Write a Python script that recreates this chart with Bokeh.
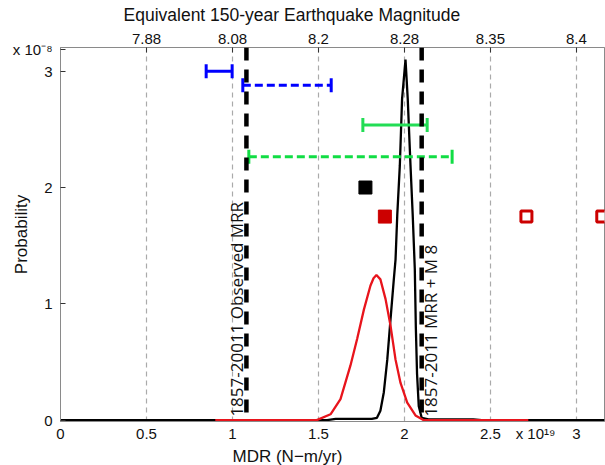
import math
from bokeh.plotting import figure
from bokeh.models import Span, Label, LinearAxis, FixedTicker, Range1d, Title
from bokeh.embed import file_html
from bokeh.resources import INLINE

# ---- data (x in units of 1e19 N-m/yr, y in units of 1e-8) ----
mdr_ticks = [0, 0.5, 1, 1.5, 2, 2.5, 3]
prob_ticks = [0, 1, 2, 3]
mag_pos = [0.5, 1.0, 1.5, 2.0, 2.5, 3.0]
mag_labels = ["7.88", "8.08", "8.2", "8.28", "8.35", "8.4"]
x_exp_pos, x_exp_text = 2.762, "x 10\u00b9\u2079"
y_exp_pos, y_exp_text = 3.19, "x 10\u207b\u2078"

black_x = [0.0, 1.55, 1.60, 1.81, 1.84, 1.86, 1.88, 1.90, 1.919, 1.938, 1.948, 1.958,
           1.973, 1.986, 2.006, 2.019, 2.035, 2.048, 2.060, 2.066, 2.073, 2.083, 2.100,
           2.140, 2.40, 2.45, 3.163]
black_y = [0.0, 0.0, 0.01, 0.01, 0.02, 0.08, 0.24, 0.52, 0.87, 1.21, 1.38, 1.76,
           2.19, 2.76, 3.10, 2.76, 2.19, 1.76, 1.30, 0.80, 0.40, 0.12, 0.02,
           0.006, 0.006, 0.0, 0.0]

red_x = [0.90, 1.49, 1.57, 1.628, 1.686, 1.725, 1.764, 1.802, 1.82, 1.837, 1.86, 1.89,
         1.919, 1.948, 1.977, 2.016, 2.064, 2.11, 2.72]
red_y = [0.0, 0.0, 0.05, 0.18, 0.47, 0.70, 0.95, 1.155, 1.22, 1.247, 1.21, 1.04,
         0.81, 0.52, 0.32, 0.15, 0.04, 0.0, 0.0]

observed_mrr = 1.081
mrr_m8 = 2.100

blue_solid = (0.847, 0.998, 3.00)
blue_dash = (1.06, 1.574, 2.88)
green_solid = (1.758, 2.132, 2.537)
green_dash = (1.095, 2.277, 2.264)

black_sq = ([1.773], [2.0])
red_sq = ([1.886], [1.75])
red_open = ([2.709, 3.150], [1.75, 1.75])

FONT = "Liberation Sans"
TXT = "#111111"

p = figure(width=605, height=465, x_range=Range1d(0, 3.163), y_range=Range1d(-0.012, 3.204),
           output_backend="svg", toolbar_location=None,
           min_border_left=60, min_border_right=1, min_border_top=47, min_border_bottom=44)
p.background_fill_color = "white"
p.border_fill_color = "white"
p.outline_line_color = "#8a8a8a"
p.outline_line_width = 1

p.title = Title(text="Equivalent 150-year Earthquake Magnitude", align="left", offset=63,
                text_font=FONT, text_font_size="17.5px", text_font_style="normal",
                text_color=TXT, standoff=8, vertical_align="top")

# axes
p.xaxis.ticker = FixedTicker(ticks=mdr_ticks + [x_exp_pos])
p.xaxis.major_label_overrides = {x_exp_pos: x_exp_text}
p.yaxis.ticker = FixedTicker(ticks=prob_ticks + [y_exp_pos])
p.yaxis.major_label_overrides = {y_exp_pos: y_exp_text}
for ax in (p.xaxis[0], p.yaxis[0]):
    ax.major_tick_in = 5
    ax.major_tick_out = 0
    ax.minor_tick_in = 0
    ax.minor_tick_out = 0
    ax.axis_line_color = "#8a8a8a"
    ax.major_tick_line_color = "#333333"
    ax.major_label_text_font = FONT
    ax.major_label_text_font_size = "15px"
    ax.major_label_text_color = TXT
p.xaxis.major_tick_in = 0
p.xaxis.major_label_standoff = 3
p.yaxis.major_label_standoff = 8
p.yaxis.axis_label = "Probability"
p.yaxis.axis_label_text_font = FONT
p.yaxis.axis_label_text_font_size = "17px"
p.yaxis.axis_label_text_font_style = "normal"
p.yaxis.axis_label_text_color = TXT
p.yaxis.axis_label_standoff = -21

top = LinearAxis(ticker=FixedTicker(ticks=mag_pos),
                 major_label_overrides={k: v for k, v in zip(mag_pos, mag_labels)})
top.major_tick_in = 5
top.major_tick_out = 0
top.minor_tick_in = 0
top.minor_tick_out = 0
top.axis_line_color = "#8a8a8a"
top.major_tick_line_color = "#333333"
top.major_label_text_font = FONT
top.major_label_text_font_size = "15px"
top.major_label_text_color = TXT
top.major_label_standoff = 4
p.add_layout(top, "above")

p.add_layout(Title(text="MDR (N\u2212m/yr)", align="left", offset=172, text_font=FONT,
                   text_font_size="17px", text_font_style="normal", text_color=TXT,
                   standoff=0), "below")

p.xgrid.ticker = FixedTicker(ticks=mag_pos)
p.xgrid.grid_line_color = "#aaaaaa"
p.xgrid.grid_line_dash = "5 4"
p.xgrid.grid_line_width = 1.2
p.ygrid.grid_line_color = None

# curves
p.line(black_x, black_y, line_color="black", line_width=2.3)
p.line(red_x, red_y, line_color="#e8141c", line_width=2.3)

# vertical reference lines
for loc in (observed_mrr, mrr_m8):
    p.add_layout(Span(location=loc, dimension="height", line_color="black",
                      line_width=4.5, line_dash="13 9"))

# error bars
def errbar(spec, color, dash):
    x0, x1, y = spec
    p.segment(x0=[x0], y0=[y], x1=[x1], y1=[y], line_color=color, line_width=3,
              line_dash=dash)
    p.scatter([x0, x1], [y, y], marker="dash", angle=math.pi / 2, size=14,
              line_color=color, line_width=3)

errbar(blue_solid, "#0000ff", "solid")
errbar(blue_dash, "#0000ff", "8 4")
errbar(green_solid, "#22dd55", "solid")
errbar(green_dash, "#11dd44", "8 4")

# markers
p.scatter(black_sq[0], black_sq[1], marker="square", size=13, fill_color="black",
          line_color="black")
p.scatter(red_sq[0], red_sq[1], marker="square", size=13, fill_color="#cc0000",
          line_color="#cc0000")
p.scatter(red_open[0], red_open[1], marker="square", size=11, fill_color="white",
          line_color="#cc0000", line_width=3)

# rotated labels
p.add_layout(Label(x=observed_mrr, y=0.03, x_offset=-10, text="1857-20011 Observed MRR",
                   angle=math.pi / 2, text_align="left", text_baseline="alphabetic",
                   text_font="Open Sans", text_font_size="17px", text_color=TXT))
p.add_layout(Label(x=mrr_m8, y=0.03, x_offset=-3, text="1857-2011 MRR + M 8",
                   angle=math.pi / 2, text_align="left", text_baseline="top",
                   text_font="Open Sans", text_font_size="17px", text_color=TXT))

open("out.html", "w").write(file_html(p, INLINE))
